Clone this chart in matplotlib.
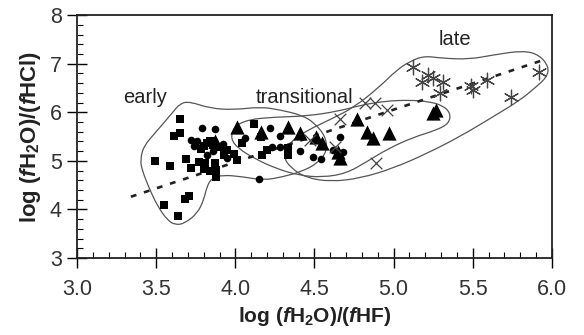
import matplotlib
matplotlib.use("Agg")
import matplotlib.pyplot as plt
import numpy as np
from matplotlib.path import Path
from matplotlib.patches import PathPatch
from matplotlib.ticker import MultipleLocator

plt.rcParams['font.family'] = ['Liberation Sans', 'DejaVu Sans']
plt.rcParams['mathtext.fontset'] = 'custom'
plt.rcParams['mathtext.rm'] = 'Liberation Sans'
plt.rcParams['mathtext.bf'] = 'Liberation Sans:bold'
plt.rcParams['mathtext.it'] = 'Liberation Sans:italic'
plt.rcParams['mathtext.bfit'] = 'Liberation Sans:bold:italic'

# symbols: log(fH2O/fHF), log(fH2O/fHCl)
sq_x = [3.65, 3.61, 3.65, 3.49, 3.59, 3.69, 3.72, 3.77, 3.55, 3.68, 3.71, 3.64,
        3.80, 3.84, 3.88, 3.88, 3.82, 3.78, 3.86, 3.95, 3.99, 4.01, 3.80, 3.84,
        3.90, 3.93, 3.87, 3.81, 4.12, 4.16, 4.04, 4.17, 4.20, 4.33, 4.33]
sq_y = [5.86, 5.52, 5.57, 5.00, 4.89, 5.03, 4.85, 4.98, 4.08, 4.21, 4.28, 3.86,
        4.83, 4.78, 4.67, 4.81, 5.36, 5.25, 5.32, 5.22, 5.15, 5.02, 5.30, 5.40,
        5.28, 5.12, 4.95, 4.95, 5.76, 5.48, 5.36, 5.12, 5.22, 5.26, 5.12]

ci_x = [3.79, 3.87, 3.72, 3.82, 3.95, 4.22, 4.28, 4.06, 4.23, 4.28, 4.41, 4.15,
        4.49, 4.54, 4.62, 4.68, 4.66, 3.76, 3.92, 3.74, 3.86]
ci_y = [5.67, 5.65, 5.43, 5.12, 5.05, 5.67, 5.52, 5.46, 5.29, 5.29, 5.21, 4.63,
        5.08, 5.04, 5.22, 5.19, 5.50, 5.40, 5.35, 5.30, 5.20]

tri_x = [3.87, 4.01, 4.16, 4.33, 4.41, 4.51, 4.55, 4.65, 4.66, 4.77, 4.83, 4.87,
         4.97, 5.25, 5.27]
tri_y = [5.40, 5.70, 5.60, 5.70, 5.57, 5.50, 5.36, 5.19, 5.05, 5.87, 5.60, 5.46,
         5.57, 5.98, 6.05]

cr_x = [4.47, 4.63, 4.66, 4.82, 4.88, 4.96, 4.89]
cr_y = [5.43, 5.29, 5.87, 6.18, 6.18, 6.05, 4.95]

ast_x = [5.12, 5.22, 5.25, 5.18, 5.31, 5.29, 5.49, 5.50, 5.59, 5.74, 5.92]
ast_y = [6.94, 6.77, 6.70, 6.63, 6.63, 6.39, 6.53, 6.46, 6.66, 6.32, 6.83]

# trend line end points
trend_x = [3.34, 5.96]
trend_y = [4.26, 7.09]

# field outlines (control points)
early_x = [3.85, 3.92, 4.05, 4.18, 4.30, 4.42, 4.52, 4.58, 4.57, 4.50, 4.42, 4.28,
           4.16, 3.99, 3.84, 3.71, 3.65, 3.60, 3.50, 3.42, 3.40, 3.41, 3.46, 3.51,
           3.57, 3.62, 3.68, 3.76, 3.80, 3.82]
early_y = [4.64, 4.71, 4.67, 4.60, 4.67, 4.78, 4.95, 5.20, 5.50, 5.78, 5.94, 6.05,
           6.11, 6.05, 6.08, 6.22, 6.18, 5.98, 5.60, 5.30, 5.02, 4.81, 4.40, 4.06,
           3.78, 3.68, 3.71, 3.92, 4.19, 4.47]

trans_x = [3.97, 3.99, 4.08, 4.25, 4.45, 4.65, 4.80, 4.95, 5.10, 5.22, 5.31, 5.36,
           5.35, 5.27, 5.12, 4.96, 4.83, 4.70, 4.55, 4.40, 4.25, 4.12, 4.02]
trans_y = [5.45, 5.70, 5.85, 5.90, 5.92, 6.02, 6.15, 6.23, 6.25, 6.22, 6.14, 5.98,
           5.77, 5.63, 5.48, 5.24, 4.98, 4.74, 4.66, 4.70, 4.85, 5.05, 5.25]

late_x = [4.30, 4.35, 4.45, 4.60, 4.75, 4.91, 5.02, 5.10, 5.19, 5.31, 5.48, 5.63,
          5.82, 5.92, 5.98, 5.97, 5.90, 5.80, 5.63, 5.42, 5.21, 5.00, 4.79, 4.60,
          4.45, 4.35]
late_y = [5.10, 5.40, 5.62, 5.85, 6.10, 6.52, 6.87, 7.04, 7.16, 7.11, 7.09, 7.18,
          7.27, 7.18, 6.94, 6.73, 6.52, 6.25, 5.91, 5.50, 5.15, 4.85, 4.64, 4.57,
          4.65, 4.85]


def smooth_patch(xs, ys):
    # closed quadratic spline: control points = data, on-curve = midpoints
    pts = np.column_stack([xs, ys])
    n = len(pts)
    mids = (pts + np.roll(pts, -1, axis=0)) / 2
    verts = [mids[-1]]
    codes = [Path.MOVETO]
    for i in range(n):
        verts += [pts[i], mids[i]]
        codes += [Path.CURVE3, Path.CURVE3]
    return PathPatch(Path(verts, codes), fill=False, edgecolor='#555555',
                     linewidth=0.9)


fig = plt.figure(figsize=(5.84, 3.35), dpi=100)
ax = fig.add_axes([0.132, 0.230, 0.813, 0.725])

for fx, fy in [(early_x, early_y), (trans_x, trans_y), (late_x, late_y)]:
    ax.add_patch(smooth_patch(fx, fy))

ax.plot(trend_x, trend_y, color='#222222', linewidth=1.9,
        linestyle=(0, (2.2, 3.0)), zorder=2)

ax.scatter(sq_x, sq_y, marker='s', s=30, color='black', zorder=3, linewidths=0)
ax.scatter(ci_x, ci_y, marker='o', s=30, color='black', zorder=3, linewidths=0)
ax.scatter(tri_x, tri_y, marker='^', s=105, color='black', zorder=3, linewidths=0)
ax.scatter(cr_x, cr_y, marker='x', s=70, color='#444444', zorder=3, linewidths=0.9)
ax.scatter(ast_x, ast_y, marker=(6, 2, 0), s=110, color='#444444', zorder=3,
           linewidths=0.9)

ax.text(3.43, 6.31, 'early', fontsize=14.5, ha='center', va='center', color='#222222')
ax.text(4.44, 6.30, 'transitional', fontsize=14.5, ha='center', va='center',
        color='#222222')
ax.text(5.39, 7.50, 'late', fontsize=14.5, ha='center', va='center', color='#222222')

ax.set_xlim(3.0, 6.0)
ax.set_ylim(3, 8)
ax.xaxis.set_major_locator(MultipleLocator(0.5))
ax.xaxis.set_minor_locator(MultipleLocator(0.1))
ax.yaxis.set_major_locator(MultipleLocator(1))
ax.yaxis.set_minor_locator(MultipleLocator(0.2))
ax.set_xticklabels([f'{v:.1f}' for v in ax.get_xticks()])
ax.tick_params(which='major', direction='inout', length=14, width=1.0,
               labelsize=15.5, labelcolor='#333333')
ax.tick_params(axis='x', which='major', pad=8)
ax.tick_params(axis='y', which='major', pad=4)
ax.tick_params(which='minor', direction='in', length=4, width=0.8)
for s in ax.spines.values():
    s.set_linewidth(1.3)
    s.set_color('#222222')

ax.set_xlabel(r'$\mathbf{log\ (}\mathbfit{f}\mathbf{H_2O)/(}\mathbfit{f}\mathbf{HF)}$',
              fontsize=15, labelpad=4, color='#222222')
ax.set_ylabel(r'$\mathbf{log\ (}\mathbfit{f}\mathbf{H_2O)/(}\mathbfit{f}\mathbf{HCl)}$',
              fontsize=16, labelpad=5, color='#222222')

fig.savefig('out.png', dpi=100)
